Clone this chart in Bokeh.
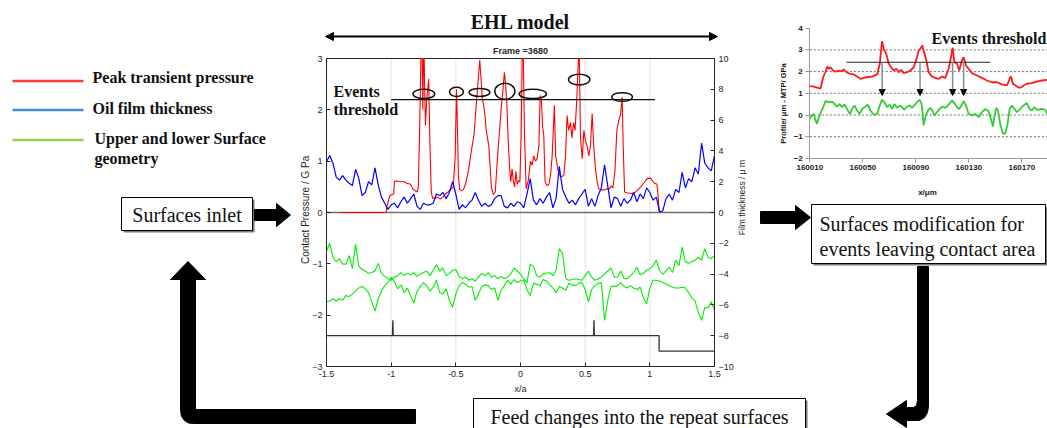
import math
from bokeh.plotting import figure
from bokeh.models import (Range1d, LinearAxis, FixedTicker, CustomJSTickFormatter,
                          BasicTickFormatter, Label, Arrow, NormalHead)
from bokeh.embed import file_html
from bokeh.resources import INLINE

# ---------------- data: central EHL chart ----------------
x_grid = [-1.5, -1.475, -1.45, -1.425, -1.4, -1.375, -1.35, -1.325, -1.3, -1.275,
          -1.25, -1.225, -1.2, -1.175, -1.15, -1.125, -1.1, -1.075, -1.05, -1.025,
          -1.0, -0.975, -0.95, -0.925, -0.9, -0.875, -0.85, -0.825, -0.8, -0.775,
          -0.75, -0.725, -0.7, -0.675, -0.65, -0.625, -0.6, -0.575, -0.55, -0.525,
          -0.5, -0.475, -0.45, -0.425, -0.4, -0.375, -0.35, -0.325, -0.3, -0.275,
          -0.25, -0.225, -0.2, -0.175, -0.15, -0.125, -0.1, -0.075, -0.05, -0.025,
          0.0,
          0.025, 0.05, 0.075, 0.1, 0.125, 0.15, 0.175, 0.2, 0.225, 0.25,
          0.275, 0.3, 0.325, 0.35, 0.375, 0.4, 0.425, 0.45, 0.475, 0.5,
          0.525, 0.55, 0.575, 0.6, 0.625, 0.65, 0.675, 0.7, 0.725, 0.75,
          0.775, 0.8, 0.825, 0.85, 0.875, 0.9, 0.925, 0.95, 0.975, 1.0,
          1.025, 1.05, 1.075, 1.1, 1.125, 1.15, 1.175, 1.2, 1.225, 1.25,
          1.275, 1.3, 1.325, 1.35, 1.375, 1.4, 1.425, 1.45, 1.475, 1.5]

film_um = [3.3, 3.7, 3.2, 2.3, 2.1, 2.4, 2.1, 1.9, 1.75, 2.8,
           2.2, 1.1, 1.3, 2.0, 1.8, 2.9, 1.8, 1.0, 0.6, 0.2,
           0.5, 0.6, 0.3, 0.7, 1.0, 0.6, 0.9, 1.2, 0.4, 0.2,
           0.6, 0.5, 0.5, 0.6, 1.2, 1.1, 1.3, 0.9, 1.3, 2.0,
           1.2, 0.2, 0.5, 0.3, 0.6, 0.8, 1.3, 0.8, 0.4, 0.6,
           0.4, 0.5, 0.9, 1.1, 1.1, 0.4, 0.3, 0.6, 0.4, 0.7,
           0.6,
           0.3, 1.2, 2.2, 0.8, 0.5, 0.9, 0.6, 1.0, 1.3, 0.3,
           0.9, 3.0, 1.5, 1.0, 0.6, 0.8, 0.5, 0.9, 1.2, 1.5,
           0.4, 0.9, 0.4, 1.1, 1.6, 3.1, 1.7, 0.3, 1.0, 0.9,
           0.4, 0.9, 0.6, 0.8, 1.3, 0.7, 1.2, 0.9, 1.6, 1.3,
           0.8, 1.0, 0.05, 0.1, 0.9, 1.2, 0.8, 1.5, 1.3, 2.6,
           1.6, 2.2, 2.0, 2.9, 2.5, 4.5, 3.2, 2.9, 2.7, 3.7]

upper_surface_um = [-2.5, -2.0, -2.9, -3.2, -3.0, -3.35, -3.35, -2.8, -3.65, -2.05,
                    -3.5, -3.7, -3.8, -3.95, -3.9, -3.8, -3.3, -3.95, -4.15, -4.3,
                    -4.4, -4.2, -4.1, -3.9, -4.1, -3.95, -4.05, -3.9, -4.15, -4.0,
                    -3.9, -3.8, -4.1, -3.75, -3.4, -3.8, -3.6, -4.1, -3.95, -3.75,
                    -3.7, -4.15, -4.3, -4.2, -4.4, -4.3, -4.45, -4.2, -3.95, -4.1,
                    -3.9, -4.2, -4.1, -4.3, -4.15, -4.3, -4.2, -4.0, -3.6, -3.8,
                    -4.0,
                    -4.3, -4.55, -3.35, -3.5, -4.1, -4.2, -4.0, -3.95, -3.9, -4.1,
                    -3.75, -2.35, -2.65, -4.3, -4.4, -4.35, -4.3, -4.35, -4.4, -4.1,
                    -3.8, -4.2, -4.4, -4.3, -4.2, -4.0, -3.8, -3.6, -4.2, -4.2,
                    -3.8, -4.3, -4.3, -4.1, -3.9, -3.55, -4.05, -3.95, -3.75, -3.65,
                    -3.45, -3.1, -3.75, -4.0, -3.8, -3.55, -3.9, -3.1, -3.45, -2.25,
                    -3.2, -3.3, -3.2, -3.1, -2.9, -3.1, -2.35, -2.9, -3.0, -2.8]

lower_surface_um = [-5.8, -5.75, -5.6, -5.75, -5.6, -5.7, -5.4, -5.45, -5.3, -5.1,
                    -4.9, -4.8, -4.95, -5.2, -5.8, -6.4, -5.6, -5.1, -4.75, -4.55,
                    -4.2, -4.5, -4.95, -4.7, -5.2, -4.9, -5.4, -5.9, -5.1, -4.8,
                    -4.55, -4.75, -5.1, -4.85, -4.4, -5.2, -5.3, -4.95, -5.7, -6.15,
                    -5.3, -4.75, -4.55, -4.65, -4.85, -4.8, -5.7, -5.3, -4.8, -4.7,
                    -4.75, -5.0, -4.9, -5.7, -5.05, -4.75, -4.4, -4.65, -4.35, -4.55,
                    -4.45,
                    -4.4, -5.0, -5.4, -4.6, -4.65, -4.75, -4.35, -4.45, -4.7, -4.9,
                    -5.2, -4.8, -4.9, -5.05, -4.6, -4.7, -4.75, -4.6, -4.55, -5.0,
                    -5.8, -5.0, -4.75, -4.6, -4.55, -7.0, -5.7, -4.8, -4.8, -4.75,
                    -4.55, -4.8, -4.9, -4.75, -4.9, -5.0, -4.85, -5.5, -5.95, -4.9,
                    -4.4, -4.4, -4.45, -4.55, -4.65, -4.75, -4.85, -4.9, -4.9, -4.85,
                    -4.9, -5.2, -5.55, -5.75, -6.5, -7.0, -6.15, -6.2, -5.8, -6.35]

pressure_x = [-1.40, -1.04, -1.03, -1.01, -0.98, -0.975, -0.96, -0.93, -0.90, -0.88,
              -0.85, -0.83, -0.80, -0.79, -0.78, -0.77, -0.76, -0.755, -0.75, -0.745,
              -0.735, -0.725, -0.71, -0.70, -0.69, -0.68, -0.66, -0.64, -0.62, -0.60,
              -0.58, -0.56, -0.54, -0.52, -0.505, -0.495, -0.488, -0.48, -0.47, -0.455,
              -0.44, -0.42, -0.40, -0.38, -0.36, -0.345, -0.33, -0.32, -0.315, -0.305,
              -0.295, -0.285, -0.275, -0.265, -0.255, -0.245, -0.235, -0.225, -0.21, -0.195,
              -0.18, -0.165, -0.15, -0.135, -0.125, -0.115, -0.105, -0.095, -0.085, -0.075,
              -0.065, -0.055, -0.045, -0.035, -0.025, -0.015, -0.005, 0.005,
              0.013, 0.022, 0.03, 0.044, 0.06, 0.077, 0.09, 0.103, 0.116, 0.129,
              0.142, 0.152, 0.162, 0.17, 0.18, 0.19, 0.205, 0.22, 0.232, 0.245,
              0.262, 0.272, 0.29, 0.31, 0.335, 0.348, 0.36, 0.372, 0.386, 0.398,
              0.41, 0.422, 0.435, 0.448, 0.455, 0.464, 0.477, 0.49, 0.502, 0.515,
              0.528, 0.541, 0.554, 0.567, 0.58, 0.593, 0.605, 0.625, 0.645, 0.665,
              0.688, 0.70, 0.714, 0.73, 0.745, 0.76, 0.773, 0.786, 0.795, 0.805,
              0.83, 0.86, 0.89, 0.93, 0.955, 0.98, 1.005, 1.03, 1.055, 1.065,
              1.072, 1.08]
pressure_gpa = [0.0, 0.0, 0.15, 0.33, 0.36, 0.6, 0.62, 0.6, 0.6, 0.57,
                0.55, 0.45, 0.4, 0.5, 1.6, 3.0, 3.0, 2.0, 3.0, 3.0,
                1.7, 2.2, 2.6, 1.3, 0.4, 0.28, 0.28, 0.3, 0.26, 0.3,
                0.36, 0.4, 0.45, 0.5, 1.1, 2.4, 1.7, 0.7, 0.45, 0.42,
                0.45, 0.6, 0.85, 1.2, 1.5, 2.0, 2.5, 2.8, 2.97, 2.6,
                2.2, 2.1, 1.9, 1.6, 1.45, 1.3, 0.9, 0.5, 0.35, 0.4,
                1.0, 1.5, 2.0, 2.4, 2.73, 2.5, 2.1, 1.4, 0.9, 0.6,
                0.85, 0.6, 0.5, 0.8, 0.55, 0.62, 0.6, 1.5,
                3.0, 3.0, 1.6, 0.46, 0.62, 1.0, 0.92, 1.1, 1.0, 1.05,
                1.3, 2.28, 2.2, 1.7, 1.5, 0.6, 0.52, 0.55, 0.72, 1.1,
                2.09, 1.1, 0.82, 0.69, 0.72, 1.1, 1.89, 1.6, 1.75, 1.45,
                1.75, 1.6, 2.2, 3.0, 3.0, 1.45, 1.05, 1.6, 1.4, 1.3,
                1.1, 1.3, 1.93, 1.25, 0.85, 0.59, 0.46, 0.44, 0.44, 0.46,
                0.46, 0.52, 0.48, 0.8, 1.6, 1.8, 1.9, 2.25, 1.2, 0.4,
                0.38, 0.37, 0.4, 0.5, 0.58, 0.66, 0.67, 0.58, 0.55, 0.3,
                0.02, 0.0]

marker_x = [-1.5, -0.99, -0.987, -0.984, 0.565, 0.568, 0.571, 1.072, 1.072, 1.5]
marker_um = [-8, -8, -7, -8, -8, -7, -8, -8, -9, -9]

threshold_gpa = 2.2
threshold_span = [-1.0, 1.04]

event_x = [-0.747, -0.495, -0.317, -0.121, 0.095, 0.454, 0.786]
event_y = [2.31, 2.35, 2.34, 2.36, 2.31, 2.59, 2.25]
event_w = [0.168, 0.108, 0.16, 0.155, 0.211, 0.165, 0.16]
event_h = [0.181, 0.181, 0.156, 0.312, 0.181, 0.209, 0.17]

c_xticks = [-1.5, -1, -0.5, 0, 0.5, 1, 1.5]
c_lticks = [-3, -2, -1, 0, 1, 2, 3]
c_rticks = [-10, -8, -6, -4, -2, 0, 2, 4, 6, 8, 10]
c_grid = [-1, -0.5, 0, 0.5, 1]

# ---------------- data: right profile chart ----------------
mtp_x = [160010.0, 160013.0, 160016.8, 160018.0, 160020.1, 160021.8, 160023.1, 160024.3, 160025.6, 160027.6,
         160029.4, 160031.9, 160033.9, 160035.6, 160037.6, 160040.2, 160043.2, 160045.7, 160048.2, 160050.7,
         160053.2, 160057.0, 160060.8, 160062.8, 160064.5, 160065.8, 160067.8, 160069.6, 160071.3, 160073.3,
         160075.3, 160077.1, 160078.9, 160080.9, 160083.4, 160085.9, 160088.4, 160090.4, 160092.2, 160093.4,
         160094.9, 160095.9, 160097.7, 160099.7, 160102.2, 160104.7, 160107.3, 160109.8, 160112.3, 160114.8,
         160116.6, 160117.8, 160119.1, 160121.1, 160122.8, 160124.8, 160126.1, 160127.9, 160129.9, 160132.4,
         160136.2, 160139.9, 160143.7, 160147.5, 160151.2, 160155.0, 160158.8, 160160.8, 160161.8, 160163.3,
         160166.3, 160168.8, 160171.3, 160173.8, 160177.6, 160181.4, 160185.2, 160189.2]
mtp_gpa = [1.33, 1.31, 1.24, 1.21, 1.74, 1.97, 2.23, 2.13, 2.2, 2.05,
           2.0, 2.05, 2.02, 2.1, 1.97, 1.9, 1.87, 1.77, 1.67, 1.71,
           1.74, 1.77, 1.87, 2.36, 3.4, 3.05, 2.79, 2.36, 2.2, 2.05,
           2.13, 1.97, 2.08, 1.93, 1.97, 2.05, 2.2, 2.54, 2.97, 3.05,
           3.2, 2.97, 2.59, 1.97, 1.77, 1.71, 1.67, 1.77, 1.71, 2.13,
           2.66, 3.1, 2.43, 2.36, 2.05, 2.51, 2.66, 2.28, 2.13, 1.93,
           1.82, 1.71, 1.59, 1.51, 1.51, 1.41, 1.36, 1.67, 1.77, 1.44,
           1.31, 1.25, 1.36, 1.44, 1.47, 1.54, 1.59, 1.62]

profile_x = [160010.0, 160011.8, 160013.0, 160014.3, 160015.5, 160016.8, 160018.5, 160020.1, 160021.8, 160024.3,
             160026.8, 160028.6, 160030.6, 160032.6, 160034.4, 160036.1, 160038.1, 160040.2, 160041.9, 160043.7,
             160045.7, 160047.7, 160049.5, 160052.0, 160053.7, 160055.7, 160058.3, 160060.8, 160062.8, 160064.5,
             160066.3, 160068.3, 160070.3, 160072.1, 160073.8, 160075.8, 160077.9, 160079.6, 160081.4, 160083.4,
             160085.4, 160087.1, 160088.9, 160090.9, 160092.9, 160094.4, 160095.9, 160097.5, 160099.2, 160101.0,
             160102.5, 160104.0, 160106.0, 160108.0, 160110.0, 160112.3, 160114.8, 160117.3, 160119.1, 160121.1,
             160122.8, 160124.8, 160126.1, 160127.9, 160129.9, 160132.4, 160134.9, 160137.4, 160139.9, 160142.4,
             160144.9, 160146.7, 160148.2, 160149.5, 160150.7, 160152.0, 160153.7, 160155.8, 160157.5, 160159.3,
             160160.8, 160162.5, 160164.5, 160166.3, 160168.8, 160171.3, 160173.8, 160175.9, 160177.6, 160179.4,
             160181.4, 160185.2, 160187.7, 160189.2]
profile_um = [-0.18, -0.02, 0.05, -0.25, -0.41, -0.10, 0.13, 0.36, 0.64, 0.59,
              0.62, 0.51, 0.39, 0.51, 0.36, 0.48, 0.28, 0.05, 0.28, 0.44,
              0.21, 0.05, 0.28, 0.39, 0.48, 0.21, 0.01, 0.05, 0.44, 0.71,
              0.59, 0.36, 0.48, 0.28, 0.51, 0.33, 0.44, 0.36, 0.24, 0.39,
              0.44, 0.33, 0.44, 0.59, 0.70, 0.51, -0.48, -0.02, 0.21, 0.33,
              0.21, -0.02, 0.13, 0.28, 0.39, 0.33, 0.48, 0.67, 0.55, 0.36,
              0.28, 0.48, 0.64, 0.44, 0.05, -0.02, 0.05, -0.10, 0.13, 0.28,
              0.18, -0.18, -0.53, -0.02, 0.33, 0.21, -0.41, -0.87, -0.84, -0.41,
              0.28, 0.44, 0.28, 0.13, 0.28, 0.44, 0.55, 0.28, 0.21, 0.36,
              0.24, 0.28, 0.24, 0.05]

r_threshold = 2.43
r_threshold_span = [160037.7, 160146.2]
r_event_x = [160064.6, 160093.2, 160117.8, 160126.1]
r_event_top = 2.43
r_event_bottom = 0.9

r_xticks = [160010, 160050, 160090, 160130, 160170]
r_yticks = [-2, -1, 0, 1, 2, 3, 4]
r_grid = [-1, 0, 1, 2, 3]

# ---------------- page / scales ----------------
W, H = 1047, 428


def x_range_for(v0, v1, p0, p1):
    s = (v1 - v0) / (p1 - p0)
    return Range1d(start=v0 - p0 * s, end=v0 + (W - p0) * s)


def y_range_for(v0, v1, p0, p1):
    s = (v1 - v0) / (p0 - p1)
    return Range1d(start=v0 - (H - p0) * s, end=v0 + p0 * s)


p = figure(width=W, height=H, x_range=Range1d(0, W), y_range=Range1d(H, 0),
           output_backend="svg", toolbar_location=None,
           x_axis_location=None, y_axis_location=None,
           min_border=0, min_border_left=0, min_border_right=0,
           min_border_top=0, min_border_bottom=0,
           outline_line_color=None, background_fill_color="white",
           border_fill_color="white")
p.grid.visible = False

p.extra_x_ranges = {"cx": x_range_for(-1.5, 1.5, 326, 714),
                    "rx": x_range_for(160010, 160170, 809.3, 1021.3)}
p.extra_y_ranges = {"cl": y_range_for(-3, 3, 366, 58),
                    "cr": y_range_for(-10, 10, 366, 58),
                    "ry": y_range_for(-2, 4, 157.9, 27.7)}

SERIF = "Liberation Serif"
SANS = "Liberation Sans"
AX = "#262626"

# ---------------- central chart ----------------
C = dict(x_range_name="cx", y_range_name="cl")
CR = dict(x_range_name="cx", y_range_name="cr")

p.segment(x0=c_grid, y0=[-3] * len(c_grid), x1=c_grid, y1=[3] * len(c_grid),
          line_color="#e4e4e4", line_width=1, **C)
p.segment(x0=[-1.5], y0=[3], x1=[1.5], y1=[3], line_color=AX, line_width=1, **C)
p.segment(x0=[-1.5], y0=[0], x1=[1.5], y1=[0], line_color="#707070", line_width=1.5, **C)

p.line(x_grid, upper_surface_um, line_color="#00ee00", line_width=1.1, **CR)
p.line(x_grid, lower_surface_um, line_color="#00ee00", line_width=1.1, **CR)
p.line(marker_x, marker_um, line_color="#333333", line_width=1.3, **CR)
p.line(pressure_x, pressure_gpa, line_color="#ff0000", line_width=1.1, **C)
p.line(x_grid, film_um, line_color="#0000ff", line_width=1.2, **CR)

p.segment(x0=[threshold_span[0]], y0=[threshold_gpa], x1=[threshold_span[1]],
          y1=[threshold_gpa], line_color="#111111", line_width=1.3, **C)
p.ellipse(x=event_x, y=event_y, width=event_w, height=event_h,
          fill_color=None, line_color="#111111", line_width=1.5, **C)


def add_axis(side, xr, yr, loc, bounds, ticks, formatter=None, **style):
    ax = LinearAxis(x_range_name=xr, y_range_name=yr, fixed_location=loc,
                    bounds=bounds, ticker=FixedTicker(ticks=ticks, minor_ticks=[]))
    if formatter is not None:
        ax.formatter = formatter
    for k, v in style.items():
        setattr(ax, k, v)
    p.add_layout(ax, side)
    return ax


c_style = dict(axis_line_color=AX, axis_line_width=1, major_tick_line_color=AX,
               major_tick_in=4, major_tick_out=0, minor_tick_line_color=None,
               major_label_text_font=SANS, major_label_text_font_size="9px",
               major_label_text_color=AX, major_label_standoff=4)
add_axis("below", "cx", "cl", -3, (-1.5, 1.5), c_xticks,
         CustomJSTickFormatter(code="return tick.toString()"), **c_style)
add_axis("left", "cx", "cl", -1.5, (-3, 3), c_lticks, **c_style)
add_axis("right", "cx", "cr", 1.5, (-10, 10), c_rticks, **c_style)

# ---------------- right chart ----------------
R = dict(x_range_name="rx", y_range_name="ry")
p.segment(x0=[160010] * len(r_grid), y0=r_grid, x1=[160190] * len(r_grid), y1=r_grid,
          line_color="#6e6e6e", line_width=1, line_dash="2 2", **R)
p.line(mtp_x, mtp_gpa, line_color="#ff1a1a", line_width=1.8, **R)
p.line(profile_x, profile_um, line_color="#33cc33", line_width=1.8, **R)
p.segment(x0=[r_threshold_span[0]], y0=[r_threshold], x1=[r_threshold_span[1]],
          y1=[r_threshold], line_color="#222222", line_width=1.1, **R)
for ex in r_event_x:
    p.add_layout(Arrow(x_start=ex, y_start=r_event_top, x_end=ex, y_end=r_event_bottom,
                       line_color="#8a8a8a", line_width=1.5,
                       end=NormalHead(size=6, fill_color="black", line_color="black"),
                       **R))

r_style = dict(axis_line_color="#9a9a9a", axis_line_width=1, major_tick_line_color="#9a9a9a",
               major_tick_in=0, major_tick_out=4, minor_tick_line_color=None,
               major_label_text_font=SANS, major_label_text_font_size="8px",
               major_label_text_font_style="bold", major_label_text_color="#1a1a1a",
               major_label_standoff=3)
add_axis("below", "rx", "ry", -2, (160010, 160190), r_xticks,
         BasicTickFormatter(use_scientific=False), **r_style)
add_axis("left", "rx", "ry", 160010, (-2, 4), r_yticks, **r_style)

# ---------------- texts ----------------


def label(x, y, text, size, font=SERIF, bold=False, align="left", angle=0.0,
          color="#111111", baseline="middle"):
    p.add_layout(Label(x=x, y=y, text=text, text_font=font, text_font_size=size,
                       text_font_style="bold" if bold else "normal",
                       text_align=align, text_baseline=baseline, angle=angle,
                       text_color=color))


label(520, 21, "EHL model", "20px", bold=True, align="center")
label(520, 50, "Frame =3680", "9px", font=SANS, bold=True, align="center", color=AX)
label(333, 91, "Events", "16px", bold=True)
label(333, 109, "threshold", "16px", bold=True)
label(305, 208, "Contact  Pressure / G Pa", "10px", font=SANS, align="center",
      angle=math.pi / 2, color=AX)
label(741, 197, "Film thickness / \u03bc m", "8.5px", font=SANS, align="center",
      angle=math.pi / 2, color=AX)
label(520, 388, "x/a", "9px", font=SANS, align="center", color=AX)

label(931, 38, "Events threshold", "16px", bold=True)
label(783, 103, "Profile/ \u03bcm - MTP/ GPa", "7.5px", font=SANS, bold=True,
      align="center", angle=math.pi / 2)
label(927, 192, "x/\u03bcm", "8px", font=SANS, bold=True, align="center")

# legend
p.segment(x0=[12, 12, 12], y0=[80.5, 109.5, 139.5], x1=[83, 83, 83], y1=[80.5, 109.5, 139.5],
          line_color=["#ff3b3b", "#3d8fd8", "#8fd35a"], line_width=2.5)
label(92, 77, "Peak transient pressure", "16px", bold=True)
label(92, 108, "Oil film thickness", "16px", bold=True)
label(94, 137.5, "Upper and lower Surface", "16px", bold=True)
label(94, 157.5, "geometry", "16px", bold=True)

# top double arrow
p.add_layout(Arrow(x_start=325, y_start=36, x_end=717, y_end=36, line_width=2,
                   line_color="black",
                   start=NormalHead(size=8, fill_color="black", line_color="black"),
                   end=NormalHead(size=8, fill_color="black", line_color="black")))

# ---------------- flow boxes ----------------
box_l = [121, 811, 473]
box_r = [252, 1045, 805]
box_t = [197, 204, 398]
box_b = [230, 263, 432]
p.quad(left=[v + 2 for v in box_l], right=[v + 2 for v in box_r],
       top=[v + 2 for v in box_t], bottom=[v + 2 for v in box_b],
       fill_color="#7a7a7a", line_color=None)
p.quad(left=box_l, right=box_r, top=box_t, bottom=box_b,
       fill_color="white", line_color="black", line_width=1)

label(186.5, 214, "Surfaces inlet", "20px", align="center")
label(819, 223, "Surfaces modification for", "20px")
label(819, 248, "events leaving contact area", "20px")
label(639, 416, "Feed changes into the repeat surfaces", "20px", align="center")

# block arrows
p.patch([254, 276, 276, 290, 276, 276, 254], [209, 209, 203, 214.5, 226, 220, 220],
        fill_color="black", line_color="black")
p.patch([760, 795, 795, 810, 795, 795, 760], [211, 211, 205, 217, 229, 223, 223],
        fill_color="black", line_color="black")
p.patch([917, 928, 928, 927, 924, 919, 906, 906, 886, 906, 906, 913, 916, 917],
        [266, 266, 406, 412, 417, 420, 420, 427, 413.5, 400, 407, 407, 405, 400],
        fill_color="black", line_color="black")
p.patch([415, 195, 195, 205, 187.5, 170, 180, 180, 181, 184, 188, 193, 415],
        [409, 409, 279, 279, 261, 279, 279, 410, 416, 420, 422.5, 423, 423],
        fill_color="black", line_color="black")

open("out.html", "w").write(file_html(p, INLINE))
